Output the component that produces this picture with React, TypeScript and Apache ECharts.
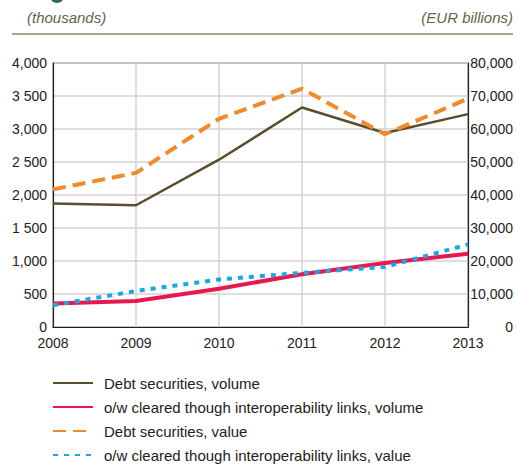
import React, { useEffect, useRef } from "react";
import * as echarts from "echarts";

const years = ["2008", "2009", "2010", "2011", "2012", "2013"];
const debtVolume = [1870, 1845, 2535, 3325, 2940, 3225];
const owVolume = [355, 395, 580, 800, 970, 1110];
const debtValue = [41700, 46700, 63100, 72200, 58400, 69200];
const owValue = [6600, 10900, 14400, 16400, 18200, 25000];
const leftTicks = ["0", "500", "1,000", "1 500", "2,000", "2 500", "3,000", "3 500", "4,000"];
const rightTicks = ["0", "10,000", "20,000", "30,000", "40,000", "50,000", "60,000", "70,000", "80,000"];
const seriesNames = [
  "Debt securities, volume",
  "o/w cleared though interoperability links, volume",
  "Debt securities, value",
  "o/w cleared though interoperability links, value",
];

const FONT = '"Liberation Sans", Arial, sans-serif';
const FS = 14;

export default function App() {
  const ref = useRef<HTMLDivElement>(null);
  useEffect(() => {
    if (!ref.current) return;
    const chart = echarts.init(ref.current, null, { renderer: "svg" });
    chart.setOption({
      animation: false,
      textStyle: { fontFamily: FONT },
      grid: {
        left: 53,
        top: 63,
        width: 415,
        height: 264,
        show: true,
        borderColor: "#222",
        borderWidth: 1.2,
        backgroundColor: "transparent",
      },
      graphic: [
        { type: "circle", shape: { cx: 57, cy: -4, r: 7 }, style: { fill: "#2f6a57" } },
        {
          type: "text",
          left: 27,
          top: 10,
          style: { text: "(thousands)", fontFamily: FONT, fontStyle: "italic", fontSize: 15, fill: "#6a6347" },
        },
        {
          type: "text",
          right: 4,
          top: 10,
          style: { text: "(EUR billions)", fontFamily: FONT, fontStyle: "italic", fontSize: 15, fill: "#6a6347" },
        },
        {
          type: "line",
          shape: { x1: 12, y1: 34, x2: 513, y2: 34 },
          style: { stroke: "#8c8463", lineWidth: 1.5 },
        },
      ],
      legend: {
        orient: "vertical",
        left: 52,
        top: 375,
        height: 89,
        padding: 0,
        itemWidth: 40,
        itemHeight: 16,
        itemGap: 8,
        data: seriesNames,
        itemStyle: { opacity: 0 },
        textStyle: { fontFamily: FONT, fontSize: 15, color: "#222", lineHeight: 16, padding: [0, 0, 0, 6] },
      },
      xAxis: {
        type: "category",
        data: years,
        boundaryGap: false,
        axisLine: { show: true, lineStyle: { color: "#222", width: 1.2 } },
        axisTick: { show: false },
        axisLabel: { color: "#222", fontSize: FS, fontFamily: FONT, margin: 9 },
        splitLine: { show: true, lineStyle: { color: "#d3d3d3", width: 1.5 } },
      },
      yAxis: [
        {
          type: "value",
          min: 0,
          max: 4000,
          interval: 500,
          position: "left",
          axisLine: { show: true, lineStyle: { color: "#222", width: 1.2 } },
          axisTick: { show: false },
          axisLabel: {
            color: "#222",
            fontSize: FS,
            fontFamily: FONT,
            margin: 6,
            formatter: (v: number) => leftTicks[Math.round(v / 500)] ?? "",
          },
          splitLine: { show: true, lineStyle: { color: "#d3d3d3", width: 1.5 } },
        },
        {
          type: "value",
          min: 0,
          max: 80000,
          interval: 10000,
          position: "right",
          axisLine: { show: true, lineStyle: { color: "#222", width: 1.2 } },
          axisTick: { show: false },
          axisLabel: {
            color: "#222",
            fontSize: FS,
            fontFamily: FONT,
            margin: 45,
            align: "right",
            formatter: (v: number) => rightTicks[Math.round(v / 10000)] ?? "",
          },
          splitLine: { show: false },
        },
      ],
      series: [
        {
          name: seriesNames[0],
          type: "line",
          yAxisIndex: 0,
          data: debtVolume,
          symbol: "none",
          lineStyle: { color: "#5a4e2a", width: 2.5 },
          itemStyle: { color: "#5a4e2a" },
          z: 3,
        },
        {
          name: seriesNames[1],
          type: "line",
          yAxisIndex: 0,
          data: owVolume,
          symbol: "none",
          lineStyle: { color: "#e8174f", width: 4 },
          itemStyle: { color: "#e8174f" },
          z: 3,
        },
        {
          name: seriesNames[2],
          type: "line",
          yAxisIndex: 1,
          data: debtValue,
          symbol: "none",
          lineStyle: { color: "#f28a2c", width: 4, type: [13, 7] },
          itemStyle: { color: "#f28a2c" },
          z: 4,
        },
        {
          name: seriesNames[3],
          type: "line",
          yAxisIndex: 1,
          data: owValue,
          symbol: "none",
          lineStyle: { color: "#1aa7e5", width: 4, type: [5, 6] },
          itemStyle: { color: "#1aa7e5" },
          z: 4,
        },
      ],
    });
    return () => chart.dispose();
  }, []);
  return <div ref={ref} style={{ width: 517, height: 464, position: "absolute", left: 0, top: 0 }} />;
}
